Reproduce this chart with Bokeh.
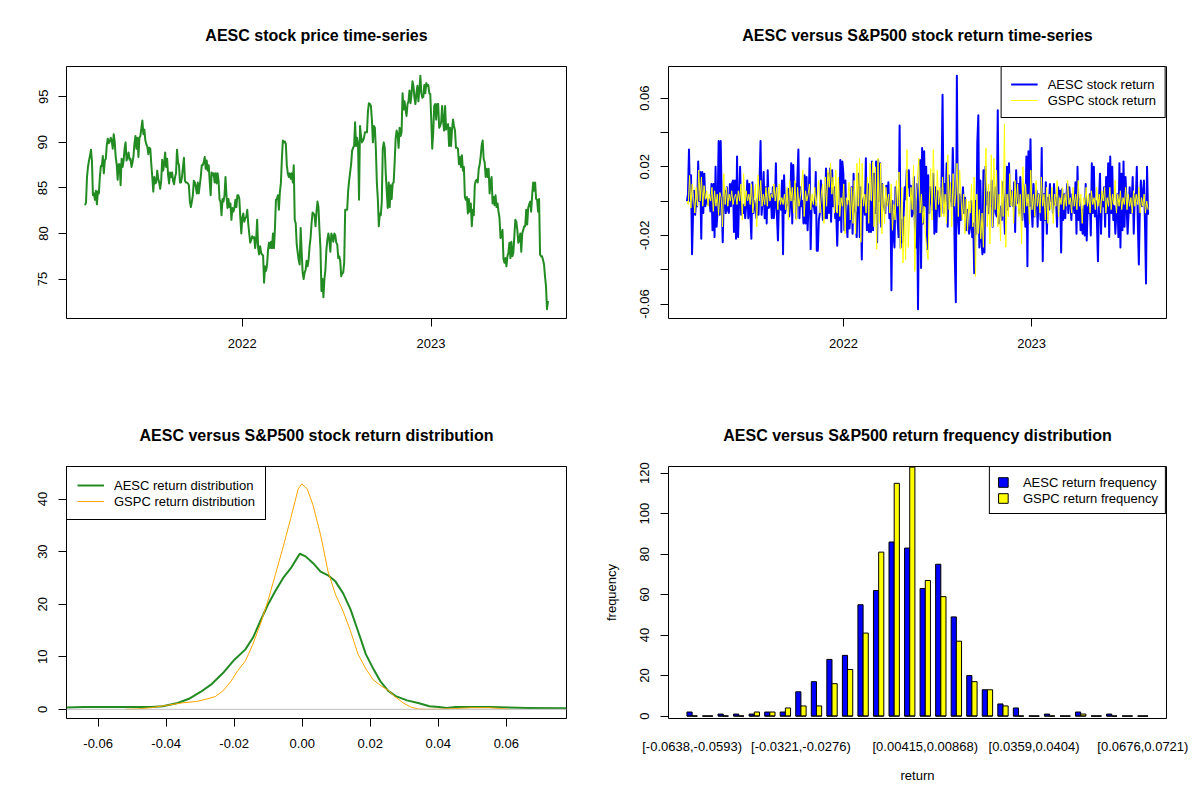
import numpy as np
import pandas as pd
from bokeh.plotting import figure
from bokeh.layouts import gridplot
from bokeh.models import (Range1d, FixedTicker, DatetimeTickFormatter, PrintfTickFormatter,
                          Legend, LegendItem, Span, ColumnDataSource, Title)
from bokeh.embed import file_html
from bokeh.resources import INLINE

FONT = "Liberation Sans"

# ---------------- data ----------------
start_date = "2021-03-03"
end_date = "2023-08-15"
year_ticks = ["2022-01-01", "2023-01-01"]

price_aesc = [
83.1, 83.4, 86.2, 87.3, 88.0, 88.5, 89.2, 88.0, 84.2, 84.4, 83.7, 84.7, 83.2, 84.6, 84.4, 86.2, 87.4, 87.4, 88.5, 86.6,
88.0, 88.2, 89.7, 90.4, 89.9, 90.1, 90.5, 90.2, 89.3, 90.9, 90.1, 88.4, 87.6, 85.9, 87.6, 87.6, 85.3, 88.2, 87.3, 88.0,
89.3, 90.0, 88.0, 88.4, 88.9, 88.1, 88.2, 87.3, 87.8, 88.5, 89.9, 90.7, 89.3, 90.5, 88.4, 90.5, 90.7, 91.6, 92.4, 90.9,
91.4, 90.2, 89.8, 89.5, 88.7, 89.4, 89.3, 87.6, 86.2, 84.6, 86.2, 85.5, 85.6, 86.9, 86.0, 85.6, 84.9, 85.8, 88.1, 86.9,
87.6, 88.9, 87.3, 88.2, 86.4, 85.5, 86.7, 86.2, 86.7, 85.8, 85.4, 86.2, 86.6, 89.2, 87.8, 87.5, 85.6, 85.6, 86.2, 87.3,
88.3, 85.8, 85.6, 85.6, 85.5, 85.3, 83.5, 82.9, 83.5, 84.2, 85.8, 85.6, 85.1, 84.4, 85.6, 84.4, 85.3, 86.2, 87.5, 87.5,
87.8, 88.4, 87.1, 88.0, 86.9, 87.5, 85.8, 84.2, 86.7, 86.4, 86.6, 85.6, 86.6, 85.5, 86.6, 85.8, 83.7, 83.5, 82.0, 83.8,
83.5, 84.2, 86.2, 84.2, 82.8, 83.8, 82.9, 83.3, 81.5, 82.8, 82.4, 82.8, 83.7, 82.9, 84.2, 84.2, 83.8, 81.7, 80.0, 81.7,
82.2, 81.3, 81.7, 81.8, 82.6, 81.1, 80.0, 79.0, 79.3, 79.7, 79.5, 79.6, 78.4, 79.3, 81.5, 78.4, 77.7, 78.6, 77.9, 77.7,
77.6, 74.6, 76.4, 75.9, 76.5, 78.2, 79.0, 78.4, 79.1, 78.4, 80.0, 78.4, 80.6, 83.7, 83.8, 84.2, 82.6, 84.6, 85.5, 88.2,
90.2, 90.0, 90.1, 89.8, 87.5, 86.6, 86.2, 86.6, 86.0, 86.6, 85.6, 87.5, 81.5, 81.1, 78.8, 77.9, 77.1, 76.6, 80.6, 78.0,
75.7, 75.0, 75.7, 76.0, 77.0, 76.4, 77.1, 78.6, 79.5, 81.1, 82.3,
82.2, 82.0, 80.8, 82.4, 83.5, 82.9, 80.4, 78.4, 73.7, 75.0, 73.0, 75.0, 76.0, 78.2, 79.3, 80.0, 79.3, 78.0, 80.0, 79.7,
79.1, 80.0, 79.8, 79.0, 78.8, 77.3, 77.5, 77.0, 75.3, 75.7, 75.7, 76.8, 82.6, 82.6, 82.6, 84.7, 85.8, 86.7, 87.6, 89.1,
89.4, 89.6, 92.2, 89.6, 90.5, 89.8, 83.7, 91.8, 90.7, 90.0, 90.2, 90.5, 91.1, 91.1, 91.1, 93.4, 94.3, 94.2, 94.0, 92.5,
90.0, 91.8, 91.6, 89.3, 85.6, 83.8, 80.8, 82.2, 82.0, 83.5, 89.3, 90.0, 89.4, 86.6, 84.7, 82.8, 85.6, 82.9, 85.3, 83.8,
85.5, 85.6, 87.8, 90.4, 91.3, 90.9, 89.4, 91.6, 90.7, 91.1, 95.4, 93.6, 94.5, 93.6, 92.9, 94.2, 94.5, 95.7, 94.3, 95.2,
96.7, 96.2, 94.9, 94.2, 95.4, 96.2, 94.5, 95.8, 97.3, 95.4, 94.9, 95.0, 96.3, 95.4, 96.5, 96.2, 96.3, 95.4, 95.3, 92.5,
89.3, 91.1, 94.0, 94.2, 92.5, 94.2, 94.2, 91.6, 91.8, 92.2, 94.0, 92.3, 91.3, 94.0, 91.4, 91.8, 92.0, 89.6, 91.6, 89.6,
91.4, 92.5, 91.8, 91.3, 89.4, 89.4, 89.3, 87.6, 88.4, 87.3, 88.6, 86.9, 87.3, 84.0, 83.7, 84.0, 82.2, 83.8, 82.4, 83.3,
80.8, 82.6, 82.0, 85.3, 85.8, 85.9, 85.6, 87.1, 87.6, 88.5, 89.7, 90.2, 88.2, 87.8, 86.2, 87.1, 86.2, 87.1, 84.4, 85.6,
86.2, 83.3, 84.0, 83.1, 84.2, 82.9, 83.3, 82.4, 81.7, 79.5, 79.7, 80.4, 77.2, 76.8, 77.3, 76.4, 77.5, 77.9, 79.0, 77.3,
79.1, 77.5, 77.9, 79.7, 81.5, 81.3, 80.4, 79.0, 79.3, 80.0, 78.0, 80.0, 80.4, 80.8, 80.8, 82.6, 81.0, 82.8, 83.2, 83.5,
82.4, 84.2, 85.6, 84.7, 85.6, 83.8, 83.7, 82.4, 83.8, 77.7, 77.5, 77.5, 77.1, 76.6, 75.3, 74.2, 71.7, 72.6,
]

ret_aesc = [
0.000, 0.004, 0.030, 0.000, 0.015, -0.031, -0.007, 0.006, -0.008, 0.000, -0.003, 0.023, 0.000, 0.017, -0.022, 0.017,
-0.007, 0.016, -0.003, 0.001, -0.001, -0.002, 0.001, -0.006, 0.010, -0.017, 0.010, -0.021, 0.020, -0.015, -0.005, 0.035,
-0.008, 0.035, 0.000, -0.024, 0.002, 0.006, -0.007, 0.008, -0.005, -0.007, 0.010, -0.003, 0.010, 0.012, -0.018, 0.012,
-0.022, 0.026, -0.021, 0.000, 0.020, -0.008, -0.002, -0.007, -0.002, -0.010, -0.002, 0.012, -0.010, 0.010, -0.007, -0.022,
0.011, -0.007, 0.000, -0.003, -0.010, 0.001, -0.008, 0.011, 0.035, -0.008, 0.000, 0.017, -0.010, 0.008, -0.013, 0.018,
-0.004, -0.003, 0.004, -0.010, 0.008, -0.010, -0.003, 0.022, -0.008, -0.023, -0.001, 0.000, -0.005, 0.012, -0.031, 0.015,
-0.007, -0.003, -0.002, 0.007, -0.009, -0.002, 0.022, -0.013, 0.021, 0.001, 0.010, -0.010, 0.013, 0.030, -0.010, 0.008,
-0.003, 0.000, -0.013, 0.015, -0.013, 0.014, -0.017, -0.002, 0.025, -0.028, 0.000, -0.003, -0.002, -0.007, 0.017, -0.029,
-0.029, -0.011, -0.007, 0.012, -0.001, -0.011, -0.007, -0.010, 0.019, -0.010, 0.016, -0.007, 0.019, -0.012, 0.018, -0.003,
0.008, -0.010, -0.007, -0.026, -0.003, -0.011, 0.024, -0.018, 0.023, 0.016, -0.017, 0.012, -0.011, -0.021, 0.000, -0.016,
-0.007, 0.008, -0.019, 0.016, -0.005, -0.007, -0.021, 0.000, 0.016, -0.021, 0.008, -0.034, 0.000, 0.002, -0.008, 0.025,
-0.017, 0.010, -0.018, 0.000, -0.018, 0.023, -0.017, 0.016, -0.007, 0.023, -0.024, 0.024, 0.000, 0.022, -0.015, 0.010,
-0.002, -0.004, -0.007, 0.009, -0.002, 0.011, -0.010, 0.002, -0.052, 0.000, -0.019, -0.027, 0.008, 0.000, -0.011, -0.021,
0.044, -0.027, -0.011, -0.024, -0.007, 0.008, 0.001, 0.018, 0.008, 0.018, 0.003,
0.009, -0.009, -0.007, 0.014, -0.015, -0.027, 0.010, -0.063, -0.003, 0.024, -0.039, 0.031, -0.013, 0.029, -0.003, 0.020,
-0.028, 0.015, -0.007, 0.008, 0.001, -0.005, 0.016, -0.019, 0.008, -0.018, 0.006, 0.004, -0.009, 0.000, 0.010, 0.062,
-0.007, 0.010, 0.000, 0.022, -0.015, 0.015, 0.000, 0.010, -0.003, 0.031, 0.008, -0.034, -0.059, 0.073, -0.009, -0.019,
0.004, -0.011, -0.002, 0.008, -0.007, 0.002, -0.017, -0.005, -0.015, -0.019, -0.015, 0.000, -0.021, -0.013, -0.042, 0.000,
-0.019, 0.034, 0.050, -0.027, 0.012, -0.023, -0.031, 0.018, -0.030, 0.020, -0.002, 0.005, -0.007, 0.005, -0.003, 0.012,
-0.015, -0.002, 0.008, -0.007, -0.009, 0.053, -0.013, -0.003, -0.007, -0.011, 0.011, -0.003, -0.019, 0.004, 0.020, -0.005,
0.022, -0.003, 0.006, 0.000, -0.003, 0.011, -0.018, 0.018, -0.001, 0.010, -0.007, 0.014, 0.000, -0.011, 0.010, -0.003,
-0.015, 0.026, -0.038, 0.029, -0.003, 0.036, -0.003, -0.015, 0.010, -0.009, 0.000, 0.006, -0.015, 0.004, 0.000, -0.011,
0.031, -0.035, 0.004, -0.011, 0.011, -0.019, 0.002, -0.005, 0.010, 0.000, 0.002, -0.007, 0.010, -0.002, 0.002, -0.015,
0.008, 0.004, 0.006, -0.030, 0.007, -0.011, 0.004, -0.010, 0.002, 0.010, -0.007, 0.008, 0.000, -0.011, 0.004, -0.003,
-0.007, 0.011, -0.019, 0.020, -0.011, 0.001, -0.017, -0.005, -0.019, -0.003, -0.020, 0.010, -0.023, -0.002, -0.007, 0.004,
-0.020, 0.022, -0.007, 0.020, -0.009, 0.000, -0.012, -0.035, 0.000, 0.016, -0.019, 0.004, -0.003, 0.008, -0.015, 0.014,
-0.007, 0.022, -0.021, 0.026, -0.007, 0.020, -0.011, -0.003, -0.019, -0.007, 0.004, -0.021, 0.022, -0.027, 0.016, -0.017,
0.023, -0.015, 0.014, -0.003, -0.019, -0.007, 0.008, -0.007, 0.000, 0.014, -0.019, 0.004, 0.000, 0.020, -0.013, -0.037,
-0.003, 0.012, -0.003, 0.004, 0.012, -0.013, -0.048, 0.020, -0.008,
]

ret_gspc = [
0.000, -0.002, 0.015, -0.004, 0.010, 0.002, -0.007, 0.008, -0.003, 0.018, 0.000, 0.014, -0.003, 0.009, 0.001, 0.006,
-0.003, 0.004, 0.000, 0.008, -0.006, 0.006, -0.003, 0.004, -0.008, 0.005, 0.002, -0.015, 0.016, -0.002, 0.008, -0.003,
0.004, 0.000, 0.006, -0.002, 0.002, 0.004, -0.002, 0.006, 0.000, 0.010, -0.011, 0.016, -0.003, 0.006, 0.000, 0.004,
-0.002, 0.010, -0.007, 0.001, 0.010, -0.015, 0.015, 0.000, 0.012, -0.003, 0.004, -0.002, 0.008, -0.003, 0.008, 0.000,
0.004, 0.002, 0.010, 0.000, 0.008, -0.005, 0.010, -0.002, 0.002, -0.002, 0.004, -0.005, 0.008, -0.011, 0.012, 0.000,
0.008, -0.007, 0.012, -0.011, 0.008, -0.003, 0.002, 0.010, 0.018, -0.009, 0.006, 0.000, 0.004, 0.010, -0.005, 0.004,
-0.002, 0.008, -0.003, 0.004, 0.012, -0.007, 0.004, 0.010, -0.013, 0.014, -0.003, 0.018, 0.008, 0.022, 0.004, 0.014,
-0.007, 0.018, -0.007, 0.014, -0.009, 0.002, -0.003, 0.010, -0.019, 0.002, -0.002, 0.011, -0.011, 0.008, -0.013, 0.012,
-0.019, 0.022, -0.003, 0.025, -0.024, 0.022, -0.003, 0.004, -0.007, 0.014, -0.013, 0.022, 0.000, 0.023, -0.015, 0.020,
-0.028, 0.025, -0.013, 0.022, -0.019, 0.010, -0.013, 0.008, -0.003, 0.004, -0.007, 0.010, -0.017, -0.002, -0.011, 0.012,
-0.003, 0.017, -0.028, 0.008, -0.036, -0.009, -0.034, 0.030, -0.027, -0.007, 0.008, -0.005, 0.021, -0.041, 0.000, 0.014,
0.025,
-0.007, 0.004, -0.013, -0.003, -0.019, -0.028, -0.034, 0.000, 0.019, -0.011, 0.030, 0.004, -0.005, 0.018, -0.002, 0.008,
-0.009, 0.014, -0.009, 0.004, -0.013, 0.027, -0.005, 0.011, -0.015, 0.016, -0.003, 0.004, 0.022, -0.009, 0.018, 0.002,
-0.011, 0.004, -0.019, 0.001, -0.017, 0.000, -0.007, 0.010, -0.015, 0.014, -0.044, 0.004, -0.019, -0.005, -0.022, -0.007,
-0.027, 0.007, 0.031, -0.015, 0.010, -0.025, 0.027, -0.015, 0.025, -0.005, 0.018, -0.015, 0.004, -0.023, 0.012, -0.009,
0.045, -0.027, 0.004, -0.009, 0.016, -0.003, 0.006, -0.013, 0.012, -0.003, 0.010, -0.009, 0.004, -0.025, 0.020, -0.007,
0.010, -0.003, 0.004, -0.013, 0.018, -0.005, 0.004, -0.009, 0.012, -0.003, 0.004, -0.007, 0.014, -0.003, 0.004, -0.011,
0.008, -0.013, 0.004, -0.005, 0.008, -0.013, 0.004, -0.003, 0.012, -0.009, 0.002, -0.002, 0.008, -0.005, 0.004, -0.003,
0.012, -0.002, 0.002, -0.007, 0.008, -0.003, 0.004, -0.005, 0.012, -0.003, 0.004, -0.013, 0.002, -0.002, 0.008, -0.003,
0.004, -0.007, 0.006, -0.002, 0.002, -0.005, 0.008, -0.003, 0.004, -0.007, 0.006, 0.000, 0.008, -0.007, 0.002, -0.003,
0.008, -0.005, 0.004, -0.002, 0.012, -0.007, 0.004, -0.003, 0.006, -0.005, 0.002, -0.002, 0.008, -0.005, 0.004, -0.003,
0.002, -0.007, 0.006, -0.003, 0.004, -0.002, 0.008, -0.007, 0.002, -0.003, 0.004, -0.007, 0.000, -0.005,
]

dens_aesc_x = [-0.0693, -0.0642, -0.0443, -0.0410, -0.0366, -0.0333, -0.0299, -0.0266, -0.0233, -0.0200, -0.0167,
               -0.0145, -0.0123, -0.0101, -0.0079, -0.0056, -0.0034, -0.0012, -0.0007, 0.0010, 0.0032, 0.0054,
               0.0076, 0.0098, 0.0120, 0.0142, 0.0164, 0.0187, 0.0209, 0.0231, 0.0253, 0.0275, 0.0308, 0.0341,
               0.0374, 0.0402, 0.0424, 0.0451, 0.0551, 0.0661, 0.0777]
dens_aesc_y = [0.32, 0.44, 0.44, 0.57, 1.2, 2.0, 3.3, 4.8, 6.9, 9.4, 11.4, 13.6, 16.8, 19.9, 22.5, 25.0, 26.8, 29.1,
               29.6, 29.1, 27.8, 26.2, 25.5, 24.3, 22.1, 19.0, 14.9, 10.5, 7.7, 5.2, 3.5, 2.5, 1.7, 1.2, 0.57, 0.44,
               0.25, 0.44, 0.44, 0.25, 0.19]

dens_gspc_x = [-0.0520, -0.0487, -0.0443, -0.0399, -0.0355, -0.0310, -0.0277, -0.0255, -0.0233, -0.0211, -0.0189,
               -0.0167, -0.0145, -0.0123, -0.0101, -0.0079, -0.0056, -0.0034, -0.0012, -0.0001, 0.0015, 0.0032,
               0.0054, 0.0076, 0.0098, 0.0120, 0.0142, 0.0164, 0.0187, 0.0209, 0.0231, 0.0253, 0.0275, 0.0297,
               0.0319, 0.0341, 0.0363, 0.0400, 0.0450, 0.0500, 0.0550, 0.0585, 0.0610]
dens_gspc_y = [0.0, 0.06, 0.32, 0.75, 1.2, 1.5, 2.0, 2.45, 3.5, 5.2, 7.4, 9.2, 12.4, 16.2, 20.6, 25.6, 30.9, 36.3,
               41.9, 42.9, 41.9, 38.8, 33.2, 26.2, 21.8, 18.7, 14.9, 10.5, 7.7, 5.6, 4.5, 3.6, 2.3, 1.2, 0.44, 0.06,
               0.0, 0.02, 0.15, 0.30, 0.30, 0.15, 0.0]

freq_aesc = [2, 0, 1, 1, 1, 2, 2, 12, 17, 28, 30, 55, 62, 86, 83, 63, 75, 49, 20, 13, 6, 4, 0, 1, 0, 2, 0, 1, 0, 0]
freq_gspc = [0, 0, 0, 0, 2, 2, 4, 5, 5, 16, 23, 41, 81, 115, 123, 67, 59, 37, 17, 13, 5, 0, 0, 0, 0, 1, 0, 0, 0, 0]
bin_label_index = [0, 7, 15, 22, 29]
bin_labels = ["[-0.0638,-0.0593)", "[-0.0321,-0.0276)", "[0.00415,0.00868)", "[0.0359,0.0404)", "[0.0676,0.0721)"]

GREEN = "#228B22"
BLUE = "#0000FF"
YELLOW = "#FFFF00"
ORANGE = "#FFA500"

BORDERS = (66, 34, 66, 82)


def r_pad(lo, hi, f=0.04):
    s = hi - lo
    return lo - f * s, hi + f * s


def base_fig(title, **kw):
    l, r, t, b = BORDERS
    p = figure(width=600, height=400, output_backend="svg", toolbar_location=None,
               min_border_left=l, min_border_right=r, min_border_top=t, min_border_bottom=b,
               title=None, **kw)
    # spacer (closest to the frame), then the real title above it
    p.add_layout(Title(text=" ", text_font_size="6px", standoff=10), "above")
    p.add_layout(Title(text=title, align="center", text_font=FONT, text_font_size="16px",
                       text_font_style="bold", text_color="black"), "above")
    p.outline_line_color = "black"
    p.outline_line_width = 1
    p.outline_line_alpha = 1
    p.grid.visible = False
    p.background_fill_color = "white"
    p.border_fill_color = "white"
    for ax in p.axis:
        ax.axis_line_color = None
        ax.major_tick_line_color = "black"
        ax.major_tick_out = 8
        ax.major_tick_in = 0
        ax.minor_tick_line_color = None
        ax.major_label_text_font = FONT
        ax.major_label_text_font_size = "13px"
        ax.major_label_text_color = "black"
        ax.major_label_standoff = 12
        ax.axis_label_text_font = FONT
        ax.axis_label_text_font_size = "13px"
        ax.axis_label_text_font_style = "normal"
        ax.axis_label_text_color = "black"
    p.yaxis.major_label_orientation = "vertical"
    p.yaxis.major_label_standoff = 11
    return p


def style_legend(lg, loc, glyph_w, glyph_h, pad, standoff):
    lg.location = loc
    lg.margin = 0
    lg.padding = pad
    lg.spacing = 0
    lg.label_height = 16
    lg.glyph_height = glyph_h
    lg.glyph_width = glyph_w
    lg.label_standoff = standoff
    lg.label_text_font = FONT
    lg.label_text_font_size = "13px"
    lg.label_text_color = "black"
    lg.border_line_color = "black"
    lg.border_line_width = 1
    lg.border_line_alpha = 1
    lg.background_fill_color = "white"
    lg.background_fill_alpha = 1


t0 = pd.Timestamp(start_date)
t1 = pd.Timestamp(end_date)
span_t = t1 - t0
x_rng = (t0 - 0.04 * span_t, t1 + 0.04 * span_t)
yt = [pd.Timestamp(d).value / 1e6 for d in year_ticks]
yfmt = DatetimeTickFormatter(years="%Y", months="%Y", days="%Y", hours="%Y", hourmin="%Y",
                             minutes="%Y", minsec="%Y", seconds="%Y", milliseconds="%Y",
                             microseconds="%Y")

# ---------------- panel 1: price ----------------
dates_p = pd.date_range(t0, t1, periods=len(price_aesc))
p1 = base_fig("AESC stock price time-series", x_axis_type="datetime",
              x_range=Range1d(*x_rng), y_range=Range1d(*r_pad(min(price_aesc), max(price_aesc))))
p1.line(dates_p, price_aesc, line_color=GREEN, line_width=2, line_join="round")
p1.xaxis.ticker = FixedTicker(ticks=yt)
p1.xaxis.formatter = yfmt
p1.yaxis.ticker = FixedTicker(ticks=[75, 80, 85, 90, 95])

# ---------------- panel 2: returns ----------------
dates_a = pd.date_range(t0, t1, periods=len(ret_aesc))
dates_g = pd.date_range(t0, t1, periods=len(ret_gspc))
lo = min(min(ret_aesc), min(ret_gspc))
hi = max(max(ret_aesc), max(ret_gspc))
p2 = base_fig("AESC versus S&P500 stock return time-series", x_axis_type="datetime",
              x_range=Range1d(*x_rng), y_range=Range1d(*r_pad(lo, hi)))
ra = p2.line(dates_a, ret_aesc, line_color=BLUE, line_width=2, line_join="round")
rg = p2.line(dates_g, ret_gspc, line_color=YELLOW, line_width=1, line_join="round")
p2.xaxis.ticker = FixedTicker(ticks=yt)
p2.xaxis.formatter = yfmt
p2.yaxis.ticker = FixedTicker(ticks=[-0.06, -0.02, 0.02, 0.06], minor_ticks=[-0.04, 0.0, 0.04])
p2.yaxis.formatter = PrintfTickFormatter(format="%.2f")
p2.yaxis.minor_tick_line_color = "black"
p2.yaxis.minor_tick_out = 8
p2.yaxis.minor_tick_in = 0
lg2 = Legend(items=[LegendItem(label="AESC stock return", renderers=[ra]),
                    LegendItem(label="GSPC stock return", renderers=[rg])])
style_legend(lg2, "top_right", 27, 16, 9, 10)
p2.add_layout(lg2)

# ---------------- panel 3: density ----------------
p3 = base_fig("AESC versus S&P500 stock return distribution",
              x_range=Range1d(min(dens_aesc_x), max(dens_aesc_x)), y_range=Range1d(-1.75, 46.2))
p3.add_layout(Span(location=0, dimension="width", line_color="#BEBEBE", line_width=1))
rd1 = p3.line(dens_aesc_x, dens_aesc_y, line_color=GREEN, line_width=2, line_join="round")
rd2 = p3.line(dens_gspc_x, dens_gspc_y, line_color=ORANGE, line_width=1, line_join="round")
p3.xaxis.ticker = FixedTicker(ticks=[-0.06, -0.04, -0.02, 0.0, 0.02, 0.04, 0.06])
p3.xaxis.formatter = PrintfTickFormatter(format="%.2f")
p3.yaxis.ticker = FixedTicker(ticks=[0, 10, 20, 30, 40])
lg3 = Legend(items=[LegendItem(label="AESC return distribution", renderers=[rd1]),
                    LegendItem(label="GSPC return distribution", renderers=[rd2])])
style_legend(lg3, "top_left", 27, 16, 10, 10)
p3.add_layout(lg3)

# ---------------- panel 4: histogram ----------------
n_bins = len(freq_aesc)
grp = np.arange(n_bins)
x_blue = 1.5 + 3 * grp
x_yel = 2.5 + 3 * grp
src_b = ColumnDataSource(dict(x=x_blue, top=freq_aesc))
src_y = ColumnDataSource(dict(x=x_yel, top=freq_gspc))
p4 = base_fig("AESC versus S&P500 return frequency distribution",
              x_range=Range1d(*r_pad(1.0, 3.0 * n_bins)), y_range=Range1d(-1.2, 123.3))
hb = p4.vbar(x="x", top="top", bottom=0, width=1.0, source=src_b, fill_color=BLUE,
             line_color="black", line_width=1)
hy = p4.vbar(x="x", top="top", bottom=0, width=1.0, source=src_y, fill_color=YELLOW,
             line_color="black", line_width=1)
p4.segment(x0=1.0 + 3 * grp, x1=3.0 + 3 * grp, y0=0, y1=0, line_color="black", line_width=1)
tick_pos = [2.0 + 3 * k for k in bin_label_index]
p4.xaxis.ticker = FixedTicker(ticks=tick_pos)
p4.xaxis.major_label_overrides = {t: s for t, s in zip(tick_pos, bin_labels)}
p4.xaxis.major_tick_out = 0
p4.xaxis.major_tick_line_color = None
p4.xaxis.major_label_standoff = 20
p4.xaxis.axis_label = "return"
p4.xaxis.axis_label_standoff = 11
p4.yaxis.ticker = FixedTicker(ticks=[0, 20, 40, 60, 80, 100, 120])
p4.yaxis.axis_label = "frequency"
p4.yaxis.axis_label_standoff = 19
lg4 = Legend(items=[LegendItem(label="AESC return frequency", renderers=[hb]),
                    LegendItem(label="GSPC return frequency", renderers=[hy])])
style_legend(lg4, "top_right", 12, 12, 7, 14)
p4.add_layout(lg4)

grid = gridplot([[p1, p2], [p3, p4]], toolbar_location=None)
open("out.html", "w").write(file_html(grid, INLINE))
